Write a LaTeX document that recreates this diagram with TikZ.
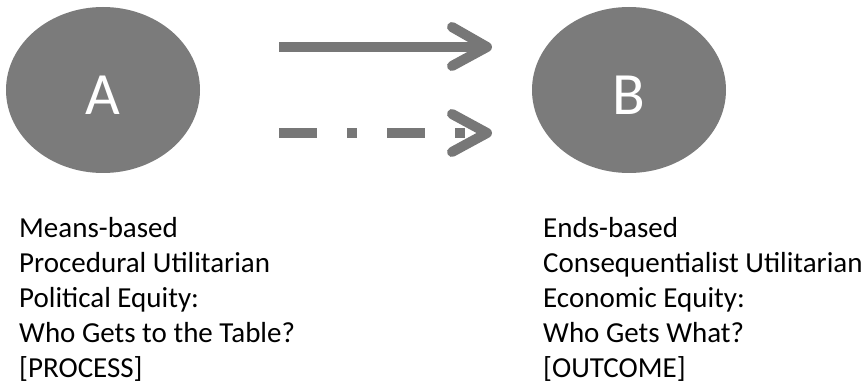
\documentclass[tikz,border=0pt]{standalone}
\usepackage{fontspec}
\setmainfont{Carlito}
\usetikzlibrary{shapes.geometric,calc}
\definecolor{blobgray}{HTML}{7B7B7B}
\definecolor{arrgray}{HTML}{777777}
\tikzset{
  blob/.style={ellipse, fill=blobgray, draw=none, minimum width=194pt, minimum height=166pt,
    inner sep=0pt, text=white, font=\fontsize{60}{60}\selectfont, text height=50pt},
  shaft/.style={draw=arrgray, line width=10pt},
  chev/.style={draw=arrgray, line width=10pt, line cap=round, line join=round},
  caption/.style={anchor=north west, inner sep=0pt, align=left, font=\fontsize{29}{35}\selectfont}
}
\begin{document}
\begin{tikzpicture}[x=1pt,y=-1pt]
\useasboundingbox (0,0) rectangle (868,385);
\node[blob] (A) at (103,90) {A};
\node[blob] (B) at (629,90) {B};
% solid arrow
\coordinate (s1) at (279,47);
\coordinate (e1) at (487,47);
\draw[shaft] (s1) -- (e1);
\draw[chev] ($(e1)+(-35,-20)$) -- (e1) -- ($(e1)+(-35,19)$);
% dashed arrow
\coordinate (s2) at (279,133);
\coordinate (e2) at (487,133);
\draw[shaft, dash pattern=on 38pt off 30pt on 10pt off 30pt] (s2) -- ($(e2)+(-22,0)$);
\draw[chev] ($(e2)+(-35,-19)$) -- (e2) -- ($(e2)+(-35,19)$);
% captions
\node[caption] (capA) at (19,217) {Means-based\\Procedural Utilitarian\\Political Equity:\\Who Gets to the Table?\\{[PROCESS]}};
\node[caption] (capB) at (543,217) {Ends-based\\Consequentialist Utilitarian\\Economic Equity:\\Who Gets What?\\{[OUTCOME]}};
\end{tikzpicture}
\end{document}
